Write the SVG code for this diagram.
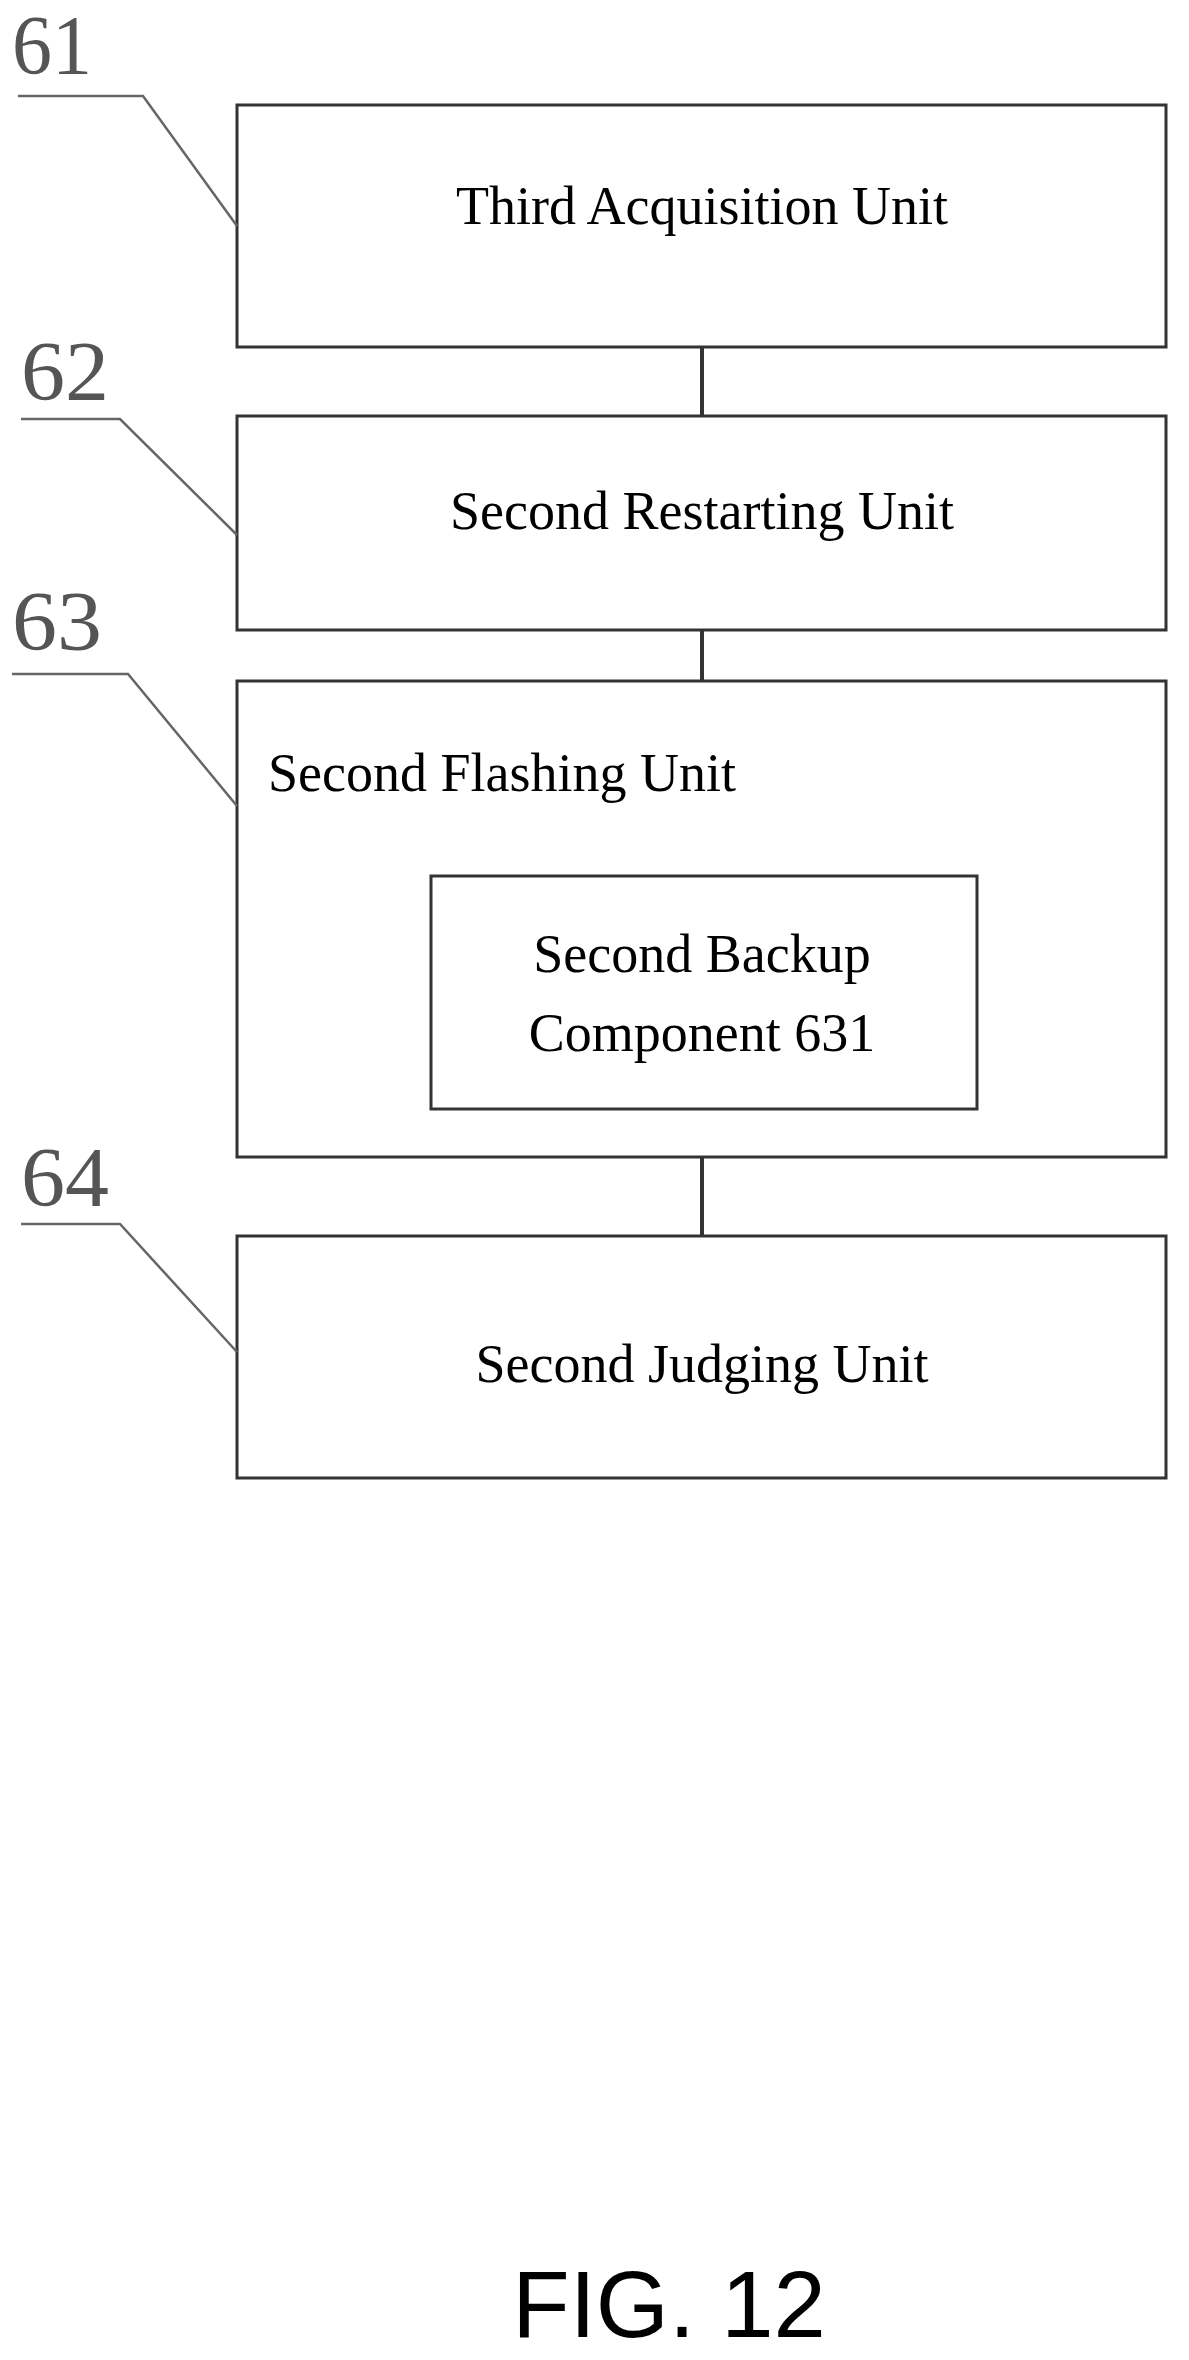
<svg xmlns="http://www.w3.org/2000/svg" width="1189" height="2360" viewBox="0 0 1189 2360">
<style>
.box{fill:#fff;stroke:#333;stroke-width:3}
.t{font-family:"Liberation Serif",serif;font-size:54px;fill:#000}
.n{font-family:"Liberation Serif",serif;font-size:84px;fill:#555}
.ld{stroke:#666;stroke-width:2.5;fill:none}
</style>
<rect width="1189" height="2360" fill="#fff"/>
<g id="connectors">
<line x1="702" y1="347" x2="702" y2="416" stroke="#333" stroke-width="4"/>
<line x1="702" y1="630" x2="702" y2="681" stroke="#333" stroke-width="4"/>
<line x1="702" y1="1157" x2="702" y2="1236" stroke="#333" stroke-width="4"/>
</g>
<g id="n61">
<rect class="box" x="237" y="105" width="929" height="242"/>
<text class="t" x="702" y="224" text-anchor="middle">Third Acquisition Unit</text>
<text class="n" x="12" y="74" textLength="80" lengthAdjust="spacingAndGlyphs">61</text>
<polyline class="ld" points="18,96 143,96 237,226"/>
</g>
<g id="n62">
<rect class="box" x="237" y="416" width="929" height="214"/>
<text class="t" x="702" y="529" text-anchor="middle">Second Restarting Unit</text>
<text class="n" x="21" y="400" textLength="88" lengthAdjust="spacingAndGlyphs">62</text>
<polyline class="ld" points="21,419 120,419 237,535"/>
</g>
<g id="n63">
<rect class="box" x="237" y="681" width="929" height="476"/>
<text class="t" x="268" y="791">Second Flashing Unit</text>
<text class="n" x="12" y="650" textLength="90" lengthAdjust="spacingAndGlyphs">63</text>
<polyline class="ld" points="12,674 128,674 237,806"/>
</g>
<g id="n631">
<rect class="box" x="431" y="876" width="546" height="233"/>
<text class="t" x="702" y="972" text-anchor="middle">Second Backup</text>
<text class="t" x="702" y="1051" text-anchor="middle">Component 631</text>
</g>
<g id="n64">
<rect class="box" x="237" y="1236" width="929" height="242"/>
<text class="t" x="702" y="1382" text-anchor="middle">Second Judging Unit</text>
<text class="n" x="21" y="1206" textLength="88" lengthAdjust="spacingAndGlyphs">64</text>
<polyline class="ld" points="21,1224 120,1224 237,1352"/>
</g>
<text x="669" y="2337" text-anchor="middle" font-family="Liberation Sans,Arial,sans-serif" font-size="94" fill="#000">FIG. 12</text>
</svg>
